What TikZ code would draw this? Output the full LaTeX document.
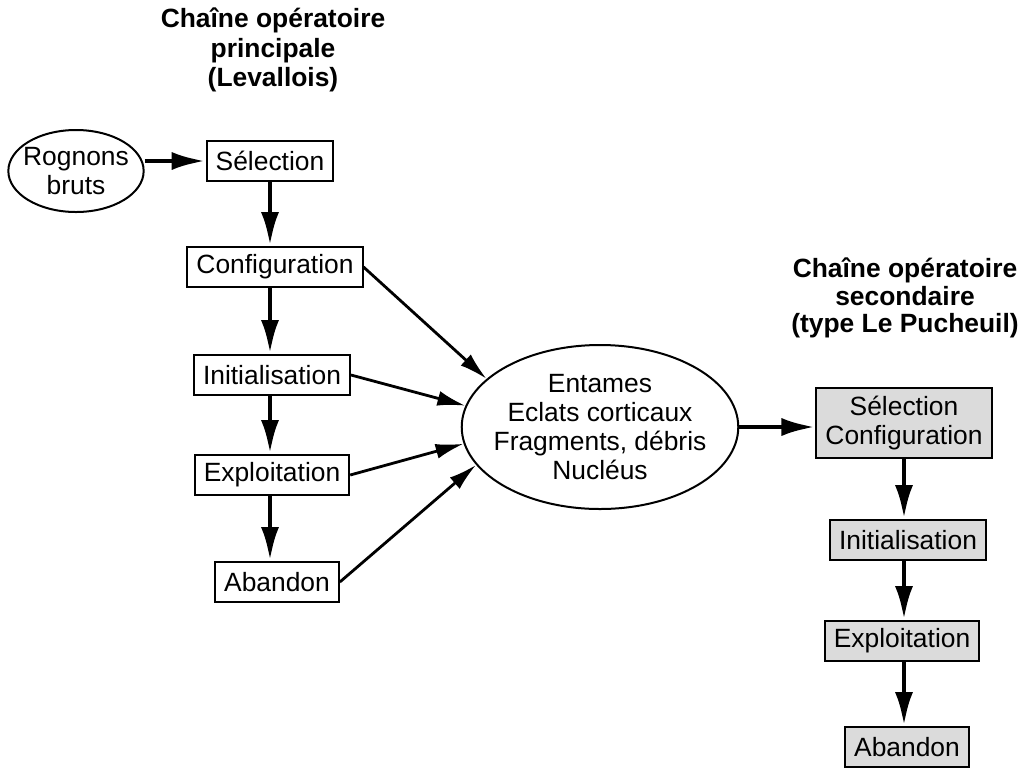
\documentclass[tikz,border=0pt]{standalone}
\usepackage{fontspec}
\setmainfont{Liberation Sans}
\usetikzlibrary{shapes.geometric, arrows.meta}
\tikzstyle{etape} = [rectangle, draw=black, line width=1pt, fill=white, minimum height=20pt, inner xsep=4.5pt, text centered]
\tikzstyle{etapeb} = [etape, fill=gray!28]
\tikzstyle{stock} = [ellipse, draw=black, line width=1pt, text centered, align=center, inner ysep=0pt]
\tikzstyle{titre} = [align=center, font=\fontsize{13.2}{14.8}\selectfont\bfseries]
\tikzstyle{arrow} = [line width=2.4pt, -{Latex[length=17pt,width=9pt]}]
\tikzstyle{flux} = [line width=1.4pt, -{Latex[length=14pt,width=7.5pt]}]

\begin{document}
\begin{tikzpicture}[x=0.5pt, y=-0.5pt, every node/.style={font=\fontsize{13.2}{14.6}\selectfont}]
\useasboundingbox (0,0) rectangle (1029,767);

% chaine principale
\node (tp) [titre] at (273,50) {Chaîne opératoire\\principale\\(Levallois)};
\node (rog) [stock, inner xsep=-2.5pt, minimum width=67pt, minimum height=41pt] at (76,171) {Rognons\\bruts};
\node (sel) [etape] at (270,161) {Sélection};
\node (conf) [etape] at (275,267) {Configuration};
\node (ini) [etape] at (272,375) {Initialisation};
\node (exp) [etape] at (272,475) {Exploitation};
\node (ab) [etape] at (277,582) {Abandon};

\node (prod) [stock, inner xsep=-4.3pt, minimum width=138pt, minimum height=82pt] at (600,427) {Entames\\Eclats corticaux\\Fragments, débris\\Nucléus};

% chaine secondaire
\node (ts) [titre, font=\fontsize{13.2}{13.6}\selectfont\bfseries] at (905,298) {Chaîne opératoire\\secondaire\\(type Le Pucheuil)};
\node (sc2) [etapeb, align=center, minimum height=35pt] at (904,423) {Sélection\\Configuration};
\node (ini2) [etapeb] at (908,540) {Initialisation};
\node (exp2) [etapeb] at (902,641) {Exploitation};
\node (ab2) [etapeb] at (907,747) {Abandon};

\draw [arrow] (rog.east |- sel.west) -- (sel.west);
\draw [arrow] (sel.south) -- (sel.south |- conf.north);
\draw [arrow] (sel.south |- conf.south) -- (sel.south |- ini.north);
\draw [arrow] (sel.south |- ini.south) -- (sel.south |- exp.north);
\draw [arrow] (sel.south |- exp.south) -- (sel.south |- ab.north);

\draw [flux] (conf.east) -- (prod.157);
\draw [flux] (ini.east) -- (prod.171);
\draw [flux] (exp.east) -- (prod.187);
\draw [flux] (ab.east) -- (prod.197);

\draw [arrow] (prod.east) -- (prod.east -| sc2.west);
\draw [arrow] (sc2.south) -- (sc2.south |- ini2.north);
\draw [arrow] (sc2.south |- ini2.south) -- (sc2.south |- exp2.north);
\draw [arrow] (sc2.south |- exp2.south) -- (sc2.south |- ab2.north);

\end{tikzpicture}
\end{document}
